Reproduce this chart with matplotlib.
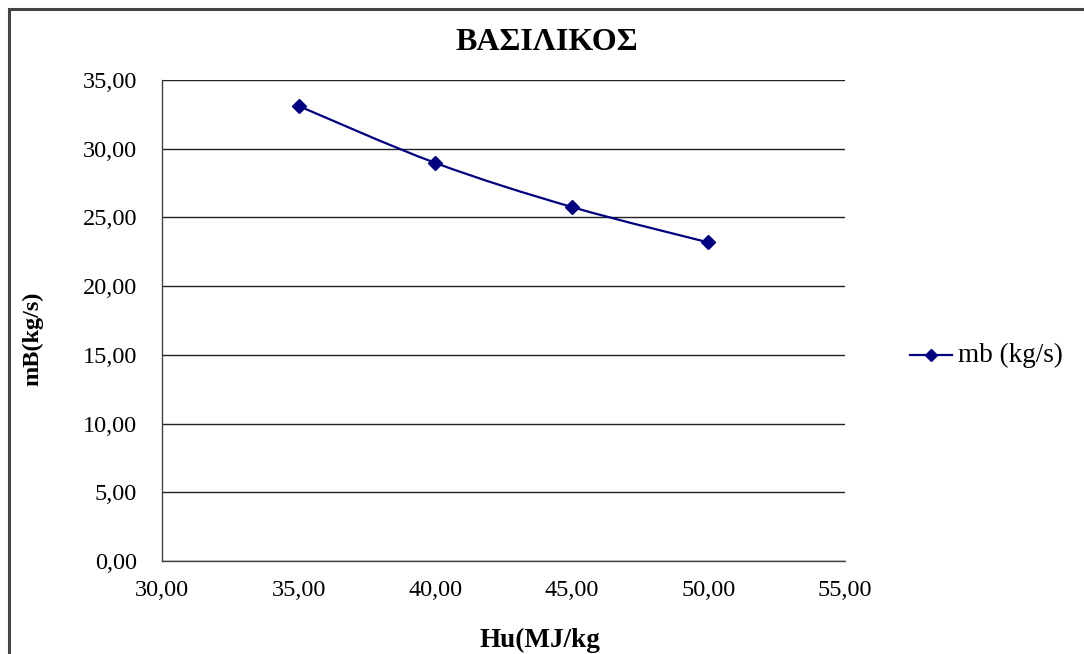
import matplotlib
matplotlib.use('Agg')
import matplotlib.pyplot as plt
from matplotlib.path import Path
from matplotlib.patches import PathPatch, Rectangle
from matplotlib.lines import Line2D
from matplotlib.ticker import FuncFormatter

# data
hu = [35.0, 40.0, 45.0, 50.0]
mb = [33.11, 28.97, 25.76, 23.18]
title = "ΒΑΣΙΛΙΚΟΣ"
series_name = "mb (kg/s)"
xlabel = "Hu(MJ/kg"
ylabel = "mB(kg/s)"

plt.rcParams['font.family'] = ['Liberation Serif', 'DejaVu Serif']
navy = '#000080'

fig = plt.figure(figsize=(10.84, 6.54), dpi=100)
W, H = 1084.0, 654.0
ax = fig.add_axes([162/W, 1 - 561/H, (845-162)/W, (561-80)/H])

# smoothed line like excel (catmull-rom segments as bezier curves)
verts = [(hu[0], mb[0])]
codes = [Path.MOVETO]
n = len(hu)
for i in range(n - 1):
	p0 = (hu[max(i-1, 0)], mb[max(i-1, 0)])
	p1 = (hu[i], mb[i])
	p2 = (hu[i+1], mb[i+1])
	p3 = (hu[min(i+2, n-1)], mb[min(i+2, n-1)])
	c1 = (p1[0] + (p2[0]-p0[0])/6, p1[1] + (p2[1]-p0[1])/6)
	c2 = (p2[0] - (p3[0]-p1[0])/6, p2[1] - (p3[1]-p1[1])/6)
	verts += [c1, c2, p2]
	codes += [Path.CURVE4] * 3
ax.add_patch(PathPatch(Path(verts, codes), facecolor='none', edgecolor=navy, lw=1.6, zorder=3))
ax.plot(hu, mb, linestyle='none', marker='D', markersize=7.5, color=navy, zorder=4)

ax.set_xlim(30, 55)
ax.set_ylim(0, 35)
ax.set_xticks([30, 35, 40, 45, 50, 55])
ax.set_yticks([0, 5, 10, 15, 20, 25, 30, 35])
fmt = FuncFormatter(lambda v, p: ("%.2f" % v).replace('.', ','))
ax.xaxis.set_major_formatter(fmt)
ax.yaxis.set_major_formatter(fmt)
ax.tick_params(length=0, labelsize=17.5, colors='black')
ax.tick_params(axis='y', pad=18)
ax.tick_params(axis='x', pad=14)
ax.grid(True, axis='y', color='#222222', lw=1.0)
ax.set_axisbelow(True)
for s in ['top', 'right']:
	ax.spines[s].set_visible(False)
for s in ['left', 'bottom']:
	ax.spines[s].set_color('#444444')
	ax.spines[s].set_linewidth(1.0)

fig.text(547/W, 1 - 42/H, title, fontsize=23, fontweight='bold', ha='center', va='center')
fig.text(33/W, 1 - 339/H, ylabel, fontsize=17.5, fontweight='bold', rotation=90, ha='center', va='center')
fig.text(540/W, 1 - 640/H, xlabel, fontsize=19.5, fontweight='bold', ha='center', va='center')

# legend
fig.add_artist(Line2D([910/W, 952/W], [1 - 355/H, 1 - 355/H], color=navy, lw=1.6))
fig.add_artist(Line2D([931/W], [1 - 355/H], marker='D', markersize=6, color=navy))
fig.text(958/W, 1 - 355/H, series_name, fontsize=19.5, ha='left', va='center')

# outer chart border (right/bottom edges lie outside the picture)
fig.add_artist(Rectangle((8.5/W, -0.1), 1.2, 1 - 8.5/H + 0.1, fill=False, edgecolor='#444444', lw=2.2, transform=fig.transFigure))

fig.savefig('out.png', dpi=100)
